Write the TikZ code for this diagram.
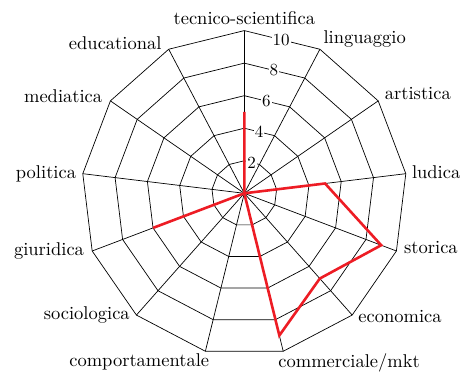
\documentclass[tikz,border=0pt]{standalone}
\usepackage{fontspec}
\setmainfont{lmroman10-regular}[Extension=.otf]
\usepackage{tikz}
\usetikzlibrary{positioning}
\definecolor{cgrid}{rgb}{0.0,0.0,0.0}
\definecolor{cdata}{rgb}{0.929,0.110,0.141}
\definecolor{cfill}{rgb}{1.0,1.0,1.0}
\tikzset{
  axlabel/.style={font=\fontsize{18.5}{22}\selectfont,inner sep=1.5pt},
  ticklabel/.style={font=\fontsize{17}{20}\selectfont,fill=cfill,inner sep=1pt},
  gridline/.style={draw=cgrid,line width=0.7pt},
  dataline/.style={draw=cdata,line width=2.6pt,line join=miter},
}
\begin{document}
\begin{tikzpicture}[x=1pt,y=1pt]
%
\useasboundingbox (0,0) rectangle (464,372);
%
\begin{scope}[shift={(244.3,178.7)}]
\coordinate (c) at (0,0);
\foreach \i in {0,...,12}
  \coordinate (v\i) at ({90-\i*360/13}:162.7);
%
\foreach \k in {1,...,5}
  \draw[gridline] (90:\k*32.54) \foreach \i in {1,...,12} { -- ({90-\i*360/13}:\k*32.54) } -- cycle;
\foreach \i in {0,...,12}
  \draw[gridline] (c) -- (v\i);
%
\foreach \k/\t in {1/2,2/4,3/6,4/8,5/10}
  \node[ticklabel] (t\t) at (76.5:\k*31.6) {\t};
%
\draw[dataline] (90:5*16.27) \foreach \val [count=\i] in {0,0,5,9,7,9,0,0,6,0,0,0} { -- ({90-\i*360/13}:\val*16.27) } -- cycle;
%
\node[axlabel, above=4pt of v0] (l0) {tecnico-scientifica};
\node[axlabel, above right=0pt and 2pt of v1] (l1) {linguaggio};
\node[axlabel, above right=-1pt and 5pt of v2] (l2) {artistica};
\node[axlabel, right=4.5pt of v3, yshift=2pt] (l3) {ludica};
\node[axlabel, right=6pt of v4, yshift=3pt] (l4) {storica};
\node[axlabel, right=4.5pt of v5, yshift=-1.5pt] (l5) {economica};
\node[axlabel, below right=1pt and -6.5pt of v6] (l6) {commerciale/mkt};
\node[axlabel, below left=1pt and -5.5pt of v7] (l7) {comportamentale};
\node[axlabel, left=5pt of v8] (l8) {sociologica};
\node[axlabel, left=6.5pt of v9] (l9) {giuridica};
\node[axlabel, left=5pt of v10] (l10) {politica};
\node[axlabel, above left=-4pt and 6.5pt of v11] (l11) {mediatica};
\node[axlabel, above left=-2pt and 5.5pt of v12] (l12) {educational};
\end{scope}
%
\end{tikzpicture}
\end{document}
